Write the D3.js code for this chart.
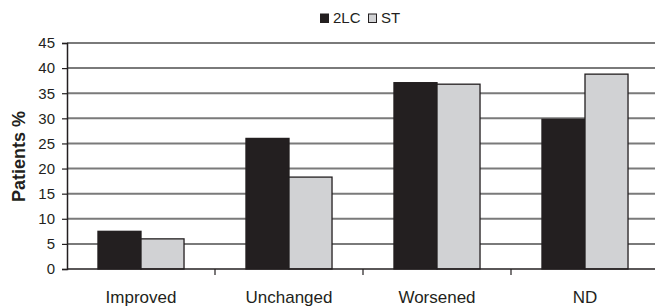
<!DOCTYPE html>
<html>
<head>
<meta charset="utf-8">
<script src="https://cdn.jsdelivr.net/npm/d3@7"></script>
<style>
  body { margin: 0; background: #fff; }
  text { font-family: "Liberation Sans", Arial, sans-serif; fill: #231f20; }
</style>
</head>
<body>
<svg id="svg" width="655" height="306"></svg>
<script>
// chart data
const categories = ["Improved", "Unchanged", "Worsened", "ND"];
const seriesNames = ["2LC", "ST"];
const values2LC = [7.5, 26.0, 37.1, 29.8];
const valuesST = [6.0, 18.3, 36.8, 38.8];
const yTicks = [0, 5, 10, 15, 20, 25, 30, 35, 40, 45];

const colors = { "2LC": "#231f20", "ST": "#d1d2d4" };

// plot area
const plotLeft = 67, plotRight = 659, plotTop = 43, plotBottom = 269;

const svg = d3.select("#svg");

const x = d3.scaleBand().domain(categories).range([plotLeft, plotRight]).paddingInner(0).paddingOuter(0);
const xs = d3.scaleBand().domain(seriesNames).range([0, x.bandwidth()]).paddingInner(0).paddingOuter(0.72);
const y = d3.scaleLinear().domain([0, 45]).range([plotBottom, plotTop]);

// gridlines
svg.append("g")
  .selectAll("line")
  .data(yTicks.filter(d => d > 0))
  .enter()
  .append("line")
  .attr("x1", plotLeft)
  .attr("x2", 655)
  .attr("y1", d => y(d))
  .attr("y2", d => y(d))
  .attr("stroke", "#7a7a7a")
  .attr("stroke-width", 2);

// bars
const rows = categories.map((c, i) => ({ cat: c, vals: [
  { name: "2LC", v: values2LC[i] },
  { name: "ST", v: valuesST[i] }
] }));

svg.append("g")
  .selectAll("g")
  .data(rows)
  .enter()
  .append("g")
  .attr("transform", d => "translate(" + x(d.cat) + ",0)")
  .selectAll("rect")
  .data(d => d.vals)
  .enter()
  .append("rect")
  .attr("x", d => xs(d.name))
  .attr("y", d => y(d.v))
  .attr("width", xs.bandwidth())
  .attr("height", d => plotBottom - y(d.v))
  .attr("fill", d => colors[d.name])
  .attr("stroke", "#231f20")
  .attr("stroke-width", 1.3);

// y axis
const yAxis = svg.append("g")
  .attr("transform", "translate(" + plotLeft + ",0)")
  .call(d3.axisLeft(y).tickValues(yTicks).tickSize(5).tickPadding(7));
yAxis.select(".domain").attr("stroke", "#231f20").attr("stroke-width", 1.5);
yAxis.selectAll(".tick line").attr("stroke", "#231f20").attr("stroke-width", 1.2);
yAxis.selectAll("text").style("font-size", "15px").style("font-family", "Liberation Sans, Arial, sans-serif").attr("fill", "#231f20");

// x axis
const xAxis = svg.append("g")
  .attr("transform", "translate(0," + plotBottom + ")");
xAxis.append("line")
  .attr("x1", plotLeft).attr("x2", 655)
  .attr("stroke", "#231f20").attr("stroke-width", 1.5);
xAxis.selectAll(".sep")
  .data(categories.slice(1))
  .enter()
  .append("line")
  .attr("x1", d => x(d)).attr("x2", d => x(d))
  .attr("y1", 0).attr("y2", 6)
  .attr("stroke", "#231f20").attr("stroke-width", 1.2);
xAxis.selectAll(".lbl")
  .data(categories)
  .enter()
  .append("text")
  .attr("x", d => x(d) + x.bandwidth() / 2)
  .attr("y", 33.5)
  .attr("text-anchor", "middle")
  .style("font-size", "17px")
  .text(d => d);

// y label
svg.append("text")
  .attr("transform", "rotate(-90)")
  .attr("x", -156.5)
  .attr("y", 25)
  .attr("text-anchor", "middle")
  .style("font-size", "18px")
  .style("font-weight", "bold")
  .text("Patients %");

// legend
const legend = svg.append("g").attr("transform", "translate(320,0)");
const legendItems = [{ name: "2LC", dx: 0 }, { name: "ST", dx: 48 }];
const li = legend.selectAll("g")
  .data(legendItems)
  .enter()
  .append("g")
  .attr("transform", d => "translate(" + d.dx + ",0)");
li.append("rect")
  .attr("x", 0.5).attr("y", 14)
  .attr("width", 8).attr("height", 8.5)
  .attr("fill", d => colors[d.name])
  .attr("stroke", "#231f20").attr("stroke-width", 1);
li.append("text")
  .attr("x", 13).attr("y", 22.7)
  .style("font-size", "15px")
  .text(d => d.name);
</script>
</body>
</html>
